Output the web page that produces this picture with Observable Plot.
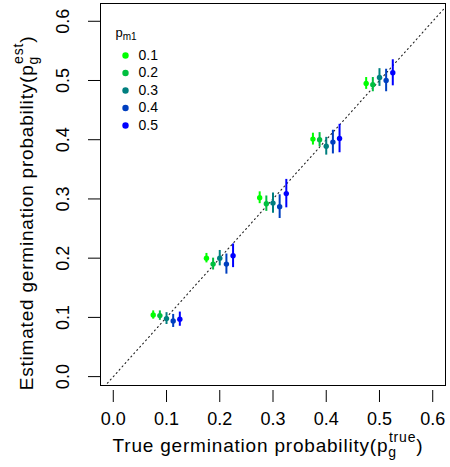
<!DOCTYPE html>
<html><head><meta charset="utf-8">
<script src="https://cdn.jsdelivr.net/npm/d3@7"></script>
<script src="https://cdn.jsdelivr.net/npm/@observablehq/plot@0.6"></script>
<style>body{margin:0;background:#fff;font-family:"Liberation Sans",Arial,sans-serif}</style>
</head><body><div id="chart"></div>
<script>
const pTrue = [0.1, 0.2, 0.3, 0.4, 0.5];
const pm1 = [0.1, 0.2, 0.3, 0.4, 0.5];
const pm1Labels = ["0.1", "0.2", "0.3", "0.4", "0.5"];
const colors = ["#00FF00", "#00BF3F", "#007F7F", "#003FBF", "#0000FF"];
// estimated germination probability, rows = pTrue, columns = pm1
const est = [
  [0.104, 0.103, 0.098, 0.094, 0.097],
  [0.200, 0.190, 0.200, 0.190, 0.204],
  [0.302, 0.292, 0.293, 0.287, 0.309],
  [0.401, 0.400, 0.389, 0.396, 0.402],
  [0.495, 0.493, 0.505, 0.500, 0.513]
];
// half-width of the error bars
const halfCI = [
  [0.007, 0.008, 0.010, 0.011, 0.012],
  [0.008, 0.010, 0.013, 0.017, 0.020],
  [0.010, 0.013, 0.017, 0.020, 0.024],
  [0.010, 0.012, 0.015, 0.020, 0.024],
  [0.010, 0.012, 0.015, 0.019, 0.022]
];
const ticks = [0, 0.1, 0.2, 0.3, 0.4, 0.5, 0.6];
const tickLabels = ["0.0", "0.1", "0.2", "0.3", "0.4", "0.5", "0.6"];
const dodge = 0.125; // horizontal spread of pm1 within a group

const rows = [];
pTrue.forEach((pt, i) => pm1.forEach((pm, j) => rows.push({
  pt, pm, x: pt + (pm - 0.3) * dodge,
  y: est[i][j], lo: est[i][j] - halfCI[i][j], hi: est[i][j] + halfCI[i][j]
})));

const font = "Liberation Sans, Arial, sans-serif";
const legendMarks = pm1.flatMap((p, i) => [
  Plot.dot([p], {frameAnchor: "top-left", dx: 25, dy: 52 + 17.5 * i, r: 3.2, fill: d => d}),
  Plot.text([pm1Labels[i]], {frameAnchor: "top-left", dx: 38, dy: 52 + 17.5 * i, text: d => d,
    textAnchor: "start", lineAnchor: "middle", fontSize: 14, fill: "black"})
]);

const chart = Plot.plot({
  width: 450, height: 467,
  marginLeft: 100, marginRight: 5, marginTop: 3, marginBottom: 82,
  style: {fontFamily: font, background: "white"},
  x: {domain: [-0.024, 0.624], axis: null},
  y: {domain: [-0.015, 0.630], axis: null},
  color: {type: "ordinal", domain: pm1, range: colors},
  marks: [
    Plot.frame({stroke: "black", strokeWidth: 1}),
    Plot.line([-1, 1], {x: d => d, y: d => d, stroke: "#222", strokeWidth: 1.1, strokeDasharray: "1.1,3.3", clip: true}),
    Plot.ruleX(rows, {x: "x", y1: "lo", y2: "hi", stroke: "pm", strokeWidth: 2}),
    Plot.dot(rows, {x: "x", y: "y", fill: "pm", r: 2.7}),
    Plot.axisX(ticks, {tickSize: 12, tickPadding: 10, dy: 5, label: null, tickFormat: (d, i) => tickLabels[i], fontSize: 18, stroke: "black", fill: "black"}),
    Plot.axisY(ticks, {tickSize: 12, label: null, tickFormat: () => "", stroke: "black"}),
    Plot.text(ticks, {y: d => d, frameAnchor: "left", dx: -32, text: (d, i) => tickLabels[i], rotate: -90,
      textAnchor: "middle", lineAnchor: "bottom", fontSize: 18, fill: "black"}),
    ...legendMarks
  ]
});
document.getElementById("chart").appendChild(chart);

const svg = d3.select(chart);
// x axis title
const xt = svg.append("text").attr("x", 268).attr("y", 452).attr("text-anchor", "middle")
  .attr("font-size", 19).attr("letter-spacing", 0.8).attr("font-family", font).attr("fill", "black");
xt.append("tspan").text("True germination probability(p");
xt.append("tspan").attr("font-size", 14).attr("dy", 5).text("g");
xt.append("tspan").attr("font-size", 14).attr("dx", -8).attr("dy", -15).text("true");
xt.append("tspan").attr("dy", 10).text(")");
// y axis title
const yt = svg.append("text").attr("transform", "translate(33,213) rotate(-90)").attr("text-anchor", "middle")
  .attr("font-size", 19).attr("letter-spacing", 0.8).attr("font-family", font).attr("fill", "black");
yt.append("tspan").text("Estimated germination probability(p");
yt.append("tspan").attr("font-size", 14).attr("dy", 5).text("g");
yt.append("tspan").attr("font-size", 14).attr("dx", -8).attr("dy", -15).text("est");
yt.append("tspan").attr("dy", 10).text(")");
// legend title
const lt = svg.append("text").attr("x", 126).attr("y", 37).attr("font-size", 13)
  .attr("font-family", font).attr("fill", "black");
lt.append("tspan").text("p");
lt.append("tspan").attr("font-size", 10).attr("dy", 3).text("m1");
</script></body></html>
